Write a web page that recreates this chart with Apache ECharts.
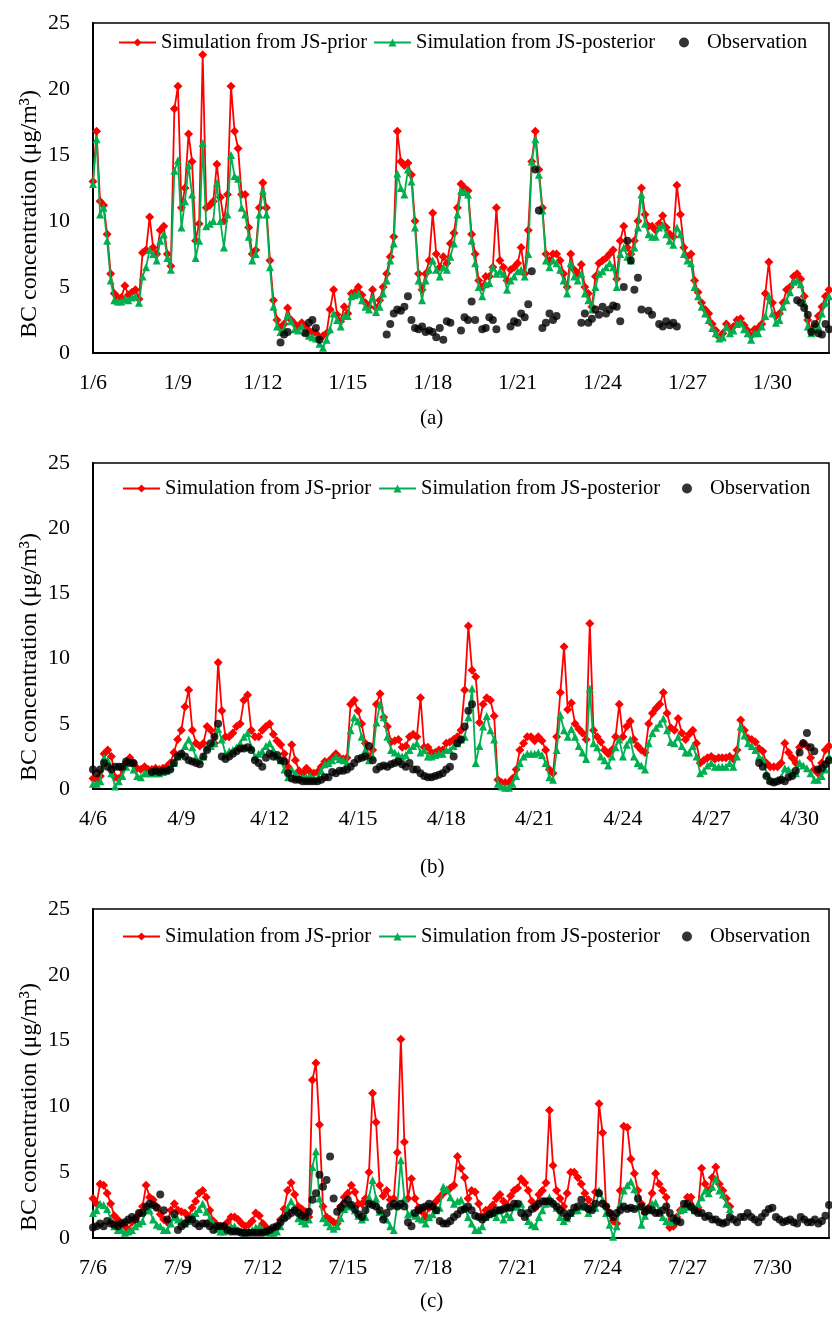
<!DOCTYPE html>
<html><head><meta charset="utf-8">
<script src="https://cdn.jsdelivr.net/npm/echarts@6/dist/echarts.min.js"></script>
<style>html,body{margin:0;padding:0;background:#fff}#c{width:832px;height:1320px}</style>
</head><body><div id="c"></div>
<script>
// tick labels (every 3 days)
const janTicks = ['1/6','1/9','1/12','1/15','1/18','1/21','1/24','1/27','1/30'];
const aprTicks = ['4/6','4/9','4/12','4/15','4/18','4/21','4/24','4/27','4/30'];
const julTicks = ['7/6','7/9','7/12','7/15','7/18','7/21','7/24','7/27','7/30'];
const seriesNames = ['Simulation from JS-prior','Simulation from JS-posterior','Observation'];
const panelLabels = ['(a)','(b)','(c)'];
const yTitle = 'BC concentration (μg/m³)';

// 3-hourly values (8 per day), starting at day 1 of each panel 00:00
const janPrior = [13.0,16.8,11.5,11.2,9.0,6.0,4.5,4.2, 4.2,5.1,4.4,4.6,4.8,4.1,7.6,7.8, 10.3,8.0,7.5,9.3,9.6,7.5,6.6,18.5,
 20.2,11.0,12.5,16.6,14.5,8.5,9.8,22.6, 11.0,11.2,11.5,14.3,11.8,10.0,12.0,20.2, 16.8,15.5,12.0,12.0,9.5,7.5,7.8,11.0,
 12.9,11.0,7.0,4.0,2.5,1.9,2.2,3.4, 2.5,2.2,2.0,2.3,2.0,1.7,1.6,1.5, 1.2,1.3,1.5,3.3,4.8,2.9,2.4,3.5,
 3.0,4.5,4.6,5.0,4.4,3.8,3.5,4.8, 3.4,4.0,5.0,6.0,7.3,8.8,16.8,14.5, 14.2,14.4,13.5,10.0,6.0,4.8,6.0,7.0,
 10.6,7.5,6.5,7.3,6.8,8.3,9.1,11.0, 12.8,12.5,12.3,9.0,7.5,5.5,5.0,5.8, 5.8,6.5,11.0,7.0,6.5,5.5,6.3,6.5,
 6.8,8.0,6.0,9.3,14.5,16.8,13.9,11.0, 7.5,7.0,7.5,7.5,7.0,6.0,5.0,7.5, 6.3,6.0,6.7,5.0,4.5,3.5,5.8,6.8,
 7.0,7.2,7.5,7.8,5.6,8.5,9.6,8.0, 7.5,8.5,10.0,12.5,10.5,9.6,9.6,9.3, 9.8,10.4,9.5,9.0,8.8,12.7,10.5,8.0,
 7.3,7.5,5.5,4.6,3.8,3.3,3.0,2.2, 1.7,1.2,1.5,2.2,1.8,2.0,2.5,2.6, 2.1,1.7,1.3,1.8,1.9,2.2,4.5,6.9,
 3.8,2.8,3.0,3.8,4.8,5.0,5.8,6.0, 5.6,4.3,2.5,1.7,2.0,2.8,3.5,4.3, 4.8];
const janPost = [12.8,16.2,10.5,11.0,8.5,5.5,4.0,3.9, 3.9,4.1,4.0,4.2,4.3,3.8,5.8,6.5, 7.8,7.5,7.0,8.5,9.0,7.2,6.3,13.8,
 14.6,9.5,11.5,14.2,12.0,7.2,8.5,15.9, 9.6,9.8,10.0,12.9,10.0,8.0,10.5,15.0, 13.4,13.2,11.0,10.5,8.8,7.0,7.5,10.5,
 12.3,10.5,6.5,3.5,2.0,1.6,1.8,2.9, 2.4,1.8,1.7,2.0,1.6,1.3,1.2,1.1, 0.7,0.4,1.0,1.8,3.0,2.5,2.0,2.8,
 2.8,4.3,4.4,4.5,4.0,3.5,3.3,4.2, 3.1,3.5,4.5,5.5,7.0,8.3,13.6,12.5, 12.0,13.9,13.0,9.5,5.5,4.0,5.5,6.3,
 7.0,6.3,5.8,6.5,6.3,7.3,8.3,10.5, 12.3,12.2,12.0,8.5,6.8,5.0,4.3,5.2, 5.3,6.5,6.0,6.2,6.0,4.8,5.5,5.8,
 6.2,6.3,5.8,7.5,14.5,16.2,13.5,10.8, 7.0,6.5,7.0,6.8,6.3,5.5,4.5,6.8, 5.8,5.5,6.0,4.5,4.0,3.3,5.0,6.0,
 6.2,6.5,6.8,6.5,5.0,7.5,8.0,7.3, 7.0,8.0,9.5,12.0,9.8,9.0,8.8,8.8, 9.5,9.7,9.0,8.5,8.2,9.5,9.0,7.5,
 7.0,6.8,5.0,4.3,3.5,3.0,2.5,1.9, 1.5,1.1,1.2,2.0,1.5,1.7,2.2,2.3, 1.8,1.5,1.0,1.5,1.5,2.0,2.8,4.3,
 3.0,2.3,2.5,3.5,4.0,4.6,5.4,5.5, 5.2,3.8,2.0,1.5,1.8,2.0,3.0,3.8, 4.3];
const janObs = [null,null,null,null,null,null,null,null, null,null,null,null,null,null,null,null, null,null,null,null,null,null,null,null,
 null,null,null,null,null,null,null,null, null,null,null,null,null,null,null,null, null,null,null,null,null,null,null,null,
 null,null,null,null,null,0.8,1.4,1.6, null,null,null,null,1.5,2.3,2.5,1.9, 1.0,null,null,null,null,null,null,null,
 null,null,null,null,null,null,null,null, null,null,null,1.4,2.2,3.0,3.3,3.2, 3.5,4.3,2.5,1.9,1.8,2.0,1.6,1.7,
 1.6,1.2,1.9,1.0,2.4,2.3,null,null, 1.7,2.7,2.5,3.9,2.5,null,1.8,1.9, 2.7,2.5,1.8,null,null,null,2.0,2.4,
 2.3,3.0,2.7,3.7,6.2,13.9,10.8,1.9, 2.3,3.0,2.5,2.8,null,null,null,null, null,null,2.3,3.0,2.3,2.6,3.3,2.9,
 3.5,3.0,3.3,3.6,3.5,2.4,5.0,8.5, 7.0,4.8,5.7,3.3,null,3.2,2.9,null, 2.2,2.0,2.4,2.1,2.3,2.0,null,null,
 null,null,null,null,null,null,null,null, null,null,null,null,null,null,null,null, null,null,null,null,null,null,null,null,
 null,null,null,null,null,null,null,4.0, 3.8,3.4,2.9,1.6,2.2,1.5,1.4,2.2, 1.8];

const aprPrior = [0.8,0.7,1.0,2.7,3.0,2.5,0.9,0.8, 1.5,2.0,2.4,2.0,1.6,1.5,1.7,1.5, 1.5,1.6,1.5,1.6,1.7,2.0,2.8,3.8,
 4.5,6.3,7.6,4.5,3.5,3.3,3.5,4.8, 4.5,3.5,9.7,6.0,4.0,4.0,4.3,4.8, 5.0,6.8,7.2,4.5,4.0,4.0,4.5,4.8,
 5.0,4.2,3.7,3.4,2.7,1.7,3.4,2.2, 1.4,1.2,1.6,1.3,1.2,1.3,1.7,2.1, 2.1,2.4,2.7,2.4,2.3,2.4,6.5,6.8,
 6.0,5.0,3.5,2.5,3.0,6.5,7.3,5.5, 4.8,3.6,3.7,3.8,3.2,3.3,4.0,4.2, 4.0,7.0,3.2,3.2,2.8,2.8,3.0,3.0,
 3.5,3.6,3.8,4.0,4.5,7.6,12.5,9.1, 8.6,5.1,6.5,7.0,6.8,5.6,0.7,0.5, 0.5,0.5,0.8,1.5,3.0,3.5,4.0,4.0,
 3.7,4.0,3.7,3.0,1.5,1.2,4.0,7.4, 10.9,6.1,6.6,5.0,4.6,4.3,3.8,12.7, 4.5,4.0,3.6,3.0,2.7,3.0,4.0,6.5,
 4.0,4.8,5.2,3.8,3.3,3.0,2.8,5.0, 5.8,6.2,6.5,7.4,5.8,4.7,4.5,5.4, 4.3,3.8,4.2,4.5,3.5,2.0,2.2,2.4,
 2.5,2.3,2.4,2.4,2.4,2.5,2.3,3.0, 5.3,4.5,3.9,3.8,3.6,3.1,2.9,2.0, 1.7,1.7,1.7,2.0,3.5,2.8,2.4,2.0,
 3.2,3.5,3.3,2.4,1.5,1.2,2.0,3.0, 3.3];
const aprPost = [0.4,0.4,0.6,2.4,2.2,1.2,0.2,0.6, 1.0,1.7,2.1,1.5,1.0,0.9,1.2,1.2, 1.2,1.2,1.2,1.3,1.4,1.7,2.0,2.5,
 2.7,3.3,3.8,3.2,2.4,2.2,2.5,3.2, 3.3,3.5,4.6,3.8,2.7,2.9,3.0,3.2, 3.5,4.0,4.3,3.2,2.5,2.7,2.9,3.3,
 3.5,3.0,2.5,2.2,1.5,0.9,1.5,1.2, 0.9,0.9,0.9,1.0,0.8,0.8,1.4,1.9, 2.0,2.2,2.5,2.3,2.2,2.0,4.5,5.5,
 5.2,4.0,3.0,2.2,2.5,5.1,6.5,5.5, 4.0,3.0,2.8,2.6,2.5,2.6,3.0,3.3, 3.5,2.8,3.0,2.5,2.5,2.6,2.7,2.7,
 3.0,3.0,3.3,3.5,3.8,4.0,5.5,7.7, 2.0,3.3,4.8,5.6,4.5,3.8,0.4,0.2, 0.1,0.1,0.4,1.0,2.0,2.5,2.7,2.7,
 2.7,2.8,2.6,2.0,0.9,0.7,3.0,5.7, 4.5,4.0,4.6,4.0,3.3,2.8,2.3,7.7, 3.5,3.2,2.5,2.2,1.8,2.5,3.2,3.8,
 2.5,3.4,3.8,2.5,2.0,1.8,1.5,3.5, 4.3,4.7,5.0,5.4,4.5,3.6,3.5,4.0, 3.3,2.8,2.8,3.3,2.5,1.2,1.4,1.8,
 2.0,1.7,1.7,1.7,1.7,2.0,1.7,2.5, 4.8,4.1,3.5,3.3,3.0,2.5,2.3,1.2, 0.7,0.6,0.7,0.9,1.6,1.5,1.3,1.2,
 2.0,1.8,1.6,1.2,0.7,0.7,1.0,1.5, 2.5];
const aprObs = [1.5,1.2,1.5,2.0,1.7,1.5,1.7,1.7, 1.7,2.1,2.0,2.0,null,null,null,null, 1.3,1.4,1.3,1.4,1.4,1.5,2.0,2.5,
 2.7,2.5,2.2,2.1,2.0,1.9,2.5,3.0, 3.5,4.0,5.0,2.5,2.3,2.5,2.7,2.9, 3.1,3.1,3.2,3.0,2.2,2.0,1.7,2.4,
 2.7,2.5,2.6,2.2,2.1,1.2,0.8,0.7, 0.7,0.6,0.6,0.6,0.6,0.6,0.7,0.9, 0.9,1.3,1.2,1.4,1.4,1.5,1.7,2.0,
 2.3,2.4,2.5,3.3,2.2,1.5,1.7,1.8, 1.7,1.9,2.0,2.1,1.9,1.7,2.0,1.5, 1.5,1.2,1.0,0.9,0.9,1.0,1.1,1.2,
 1.5,1.7,2.5,3.5,3.8,4.8,6.0,6.5, null,null,null,null,null,null,null,null, null,null,null,null,null,null,null,null,
 null,null,null,null,null,null,null,null, null,null,null,null,null,null,null,null, null,null,null,null,null,null,null,null,
 null,null,null,null,null,null,null,null, null,null,null,null,null,null,null,null, null,null,null,null,null,null,null,null,
 null,null,null,null,null,null,null,null, null,null,null,null,null,2.0,1.7,1.0, 0.6,0.5,0.6,0.7,0.6,0.9,1.0,1.4,
 2.8,3.5,4.3,3.2,2.9,1.5,1.6,1.9, 2.2];

const julPrior = [3.0,2.6,4.1,4.0,3.4,2.6,1.7,1.4, 1.0,0.9,0.6,1.2,1.5,1.8,2.4,4.0, 3.1,2.9,2.4,1.8,1.4,1.2,2.1,2.6,
 2.1,2.0,1.9,1.6,2.3,2.8,3.4,3.6, 3.1,2.1,1.3,1.0,0.9,0.9,1.2,1.6, 1.6,1.4,1.1,0.9,1.0,1.3,1.9,1.7,
 1.1,0.8,0.6,0.6,0.8,1.4,2.2,3.6, 4.2,3.3,2.4,2.2,2.0,1.6,12.0,13.3, 8.6,2.4,1.6,1.4,1.2,1.1,2.4,3.1,
 3.4,4.0,3.5,2.6,2.6,3.0,5.0,11.0, 8.8,4.0,3.2,3.6,2.9,3.0,6.5,15.1, 7.3,3.0,4.5,3.0,2.3,2.0,1.6,2.3,
 2.4,2.8,3.1,3.4,3.6,3.8,4.0,6.2, 5.3,4.6,3.0,3.6,3.5,2.6,1.6,2.1, 2.2,2.5,3.0,3.3,2.8,2.5,3.2,3.6,
 3.8,4.5,4.2,3.6,2.8,2.3,3.3,3.6, 4.2,9.7,5.5,3.6,3.0,2.4,3.4,5.0, 5.0,4.6,4.1,3.4,2.9,2.4,3.5,10.2,
 8.0,2.4,1.9,1.3,1.1,3.6,8.5,8.4, 6.0,4.9,3.6,2.6,1.9,2.3,3.4,4.9, 4.1,3.6,3.1,0.8,0.9,1.6,2.1,2.2,
 3.1,3.1,2.1,2.3,5.3,4.1,3.6,4.6, 5.4,4.1,3.6,3.0,2.4];
const julPost = [1.9,2.1,2.6,2.5,2.2,1.4,0.9,0.6, 0.6,0.4,0.5,0.6,0.9,1.1,1.3,2.1, 2.1,1.4,1.0,0.9,0.6,0.6,1.1,1.6,
 1.4,1.3,1.1,1.3,1.7,1.9,2.2,2.6, 2.0,1.5,1.1,0.7,0.5,0.5,0.7,0.9, 0.9,0.6,0.5,0.4,0.5,0.6,0.8,0.9,
 0.6,0.5,0.4,0.4,0.5,0.9,1.6,2.3, 2.8,2.3,1.5,1.3,1.1,1.4,5.4,6.6, 3.0,1.5,1.2,0.9,0.7,0.9,1.5,2.2,
 2.4,2.6,2.1,1.7,1.4,1.6,3.1,4.4, 3.0,2.0,1.7,1.4,0.9,0.6,2.5,5.9, 3.0,1.8,1.9,1.7,1.5,1.4,1.1,1.6,
 1.8,2.1,2.3,3.9,3.7,3.1,2.6,2.8, 2.9,2.4,1.6,1.1,0.6,0.6,0.9,1.6, 1.8,1.9,1.6,2.1,1.4,1.8,1.6,2.4,
 2.4,2.6,1.9,1.3,1.0,0.9,1.6,2.1, 2.6,3.1,2.8,2.3,1.6,1.3,1.5,1.9, 2.1,2.1,2.4,2.4,1.9,2.4,2.3,3.6,
 2.9,1.9,1.0,0.1,0.9,2.6,3.6,4.0, 4.3,3.7,2.4,1.0,1.7,2.1,2.6,2.7, 2.1,1.6,1.3,1.2,1.3,1.5,2.1,2.2,
 2.4,2.4,2.1,2.6,3.1,3.6,3.4,3.9, 4.5,3.6,3.3,2.6,2.2];
const julObs = [0.8,0.9,1.1,0.9,1.3,1.1,1.0,0.9, 1.1,1.2,1.4,1.6,1.4,1.9,1.9,2.4, 2.6,2.5,2.3,3.3,2.1,1.4,null,1.8,
 0.6,0.9,1.1,1.4,1.4,1.1,0.9,1.1, 1.1,0.9,0.6,0.9,0.9,0.9,0.6,0.5, 0.5,0.5,0.4,0.4,0.4,0.4,0.4,0.4,
 0.4,0.5,0.6,0.8,0.9,1.2,1.5,1.7, 1.9,2.1,1.9,1.7,1.6,2.0,2.9,3.4, 4.8,3.9,4.4,6.2,3.0,2.0,2.3,2.6,
 2.9,2.5,2.2,1.8,1.6,2.1,2.6,2.5, 2.4,2.1,1.4,1.9,2.4,2.6,2.4,2.6, 2.4,1.2,0.9,1.9,2.1,2.3,2.4,2.6,
 2.4,2.1,1.3,1.1,1.1,1.3,1.6,1.8, 2.1,2.2,2.4,2.1,1.7,1.6,1.4,1.6, 1.8,1.9,2.1,2.1,2.2,2.3,2.3,2.6,
 2.6,1.9,1.6,1.9,2.2,2.4,2.6,2.8, 2.8,2.8,2.6,2.4,2.1,1.9,1.6,1.9, 2.3,2.4,2.9,2.4,2.2,2.1,2.6,3.4,
 2.6,2.4,1.9,1.6,1.9,2.1,2.4,2.2, 2.3,2.2,3.0,2.4,2.0,2.2,2.1,1.9, 1.9,2.1,2.4,1.9,1.5,1.3,1.2,2.6,
 2.6,2.4,2.1,1.9,1.9,1.6,1.7,1.4, 1.4,1.2,1.1,1.2,1.6,1.4,1.2,1.6, 1.6,1.9,1.6,1.4,1.2,1.6,1.9,2.2,
 2.3,1.6,1.4,1.2,1.3,1.4,1.2,1.1, 1.6,1.4,1.2,1.2,1.4,1.1,1.3,1.7, 2.5];

const FONT = '"Liberation Serif","Times New Roman",Times,serif';
const RED = '#FF0000', GREEN = '#00B050', BLACK = '#000000';
const panels = [
  {prior: janPrior, post: janPost, obs: janObs, ticks: janTicks, days: 26, top: 23, height: 330, legY: 43, labY: 419, titleY: 214, legX: [118, 373, 679]},
  {prior: aprPrior, post: aprPost, obs: aprObs, ticks: aprTicks, days: 25, top: 463, height: 326, legY: 489, labY: 868, titleY: 657, legX: [122, 378, 682]},
  {prior: julPrior, post: julPost, obs: julObs, ticks: julTicks, days: 26, top: 909, height: 329, legY: 937, labY: 1302, titleY: 1107, legX: [122, 378, 682]}
];
const toPts = arr => arr.map((v, k) => [k / 8, v]);
const toObs = arr => arr.map((v, k) => v == null ? null : [k / 8, v]).filter(p => p);

const grid = [], xAxis = [], yAxis = [], series = [], legend = [], graphic = [];
panels.forEach((p, i) => {
  grid.push({left: 93, width: 736, top: p.top, height: p.height, show: true, borderColor: '#000', borderWidth: 1.5, backgroundColor: 'transparent'});
  xAxis.push({type: 'value', gridIndex: i, min: 0, max: p.days, interval: 3,
    axisLine: {show: true, onZero: false, lineStyle: {color: '#000', width: 2}}, axisTick: {show: false}, splitLine: {show: false},
    axisLabel: {showMaxLabel: false, color: '#000', fontFamily: FONT, fontSize: 22, margin: 19,
      formatter: v => p.ticks[Math.round(v / 3)] || ''}});
  yAxis.push({type: 'value', gridIndex: i, min: 0, max: 25, interval: 5,
    axisLine: {show: true, lineStyle: {color: '#000', width: 2}}, axisTick: {show: false}, splitLine: {show: false},
    axisLabel: {color: '#000', fontFamily: FONT, fontSize: 22, margin: 23}});
  series.push({name: seriesNames[0], type: 'line', xAxisIndex: i, yAxisIndex: i, data: toPts(p.prior),
    symbol: 'diamond', symbolSize: 9, showSymbol: true, showAllSymbol: true, connectNulls: false,
    lineStyle: {color: RED, width: 1.8}, itemStyle: {color: RED}, z: 2});
  series.push({name: seriesNames[1], type: 'line', xAxisIndex: i, yAxisIndex: i, data: toPts(p.post),
    symbol: 'triangle', symbolSize: 8, showSymbol: true, showAllSymbol: true, connectNulls: false,
    lineStyle: {color: GREEN, width: 1.8}, itemStyle: {color: GREEN}, z: 3});
  series.push({name: seriesNames[2], type: 'scatter', xAxisIndex: i, yAxisIndex: i, data: toObs(p.obs),
    symbol: 'circle', symbolSize: 8, itemStyle: {color: BLACK}, z: 4});
  seriesNames.forEach((nm, j) => {
    legend.push({data: [nm], left: p.legX[j], top: p.legY - 11, itemWidth: j === 2 ? 36 : 37, itemHeight: 10,
      selectedMode: false, padding: 0, textStyle: {color: '#000', fontFamily: FONT, fontSize: 20.5}});
  });
  graphic.push({type: 'text', left: 420, top: p.labY - 11, style: {text: panelLabels[i], fill: '#000', font: '21px ' + FONT}});
  graphic.push({type: 'text', x: 30, y: p.titleY, rotation: Math.PI / 2,
    style: {text: yTitle, fill: '#000', font: '24px ' + FONT, align: 'center', verticalAlign: 'middle'}});
});

const chart = echarts.init(document.getElementById('c'), null, {renderer: 'canvas'});
chart.setOption({animation: false, backgroundColor: '#fff', grid, xAxis, yAxis, series, legend, graphic});
</script>
</body></html>
